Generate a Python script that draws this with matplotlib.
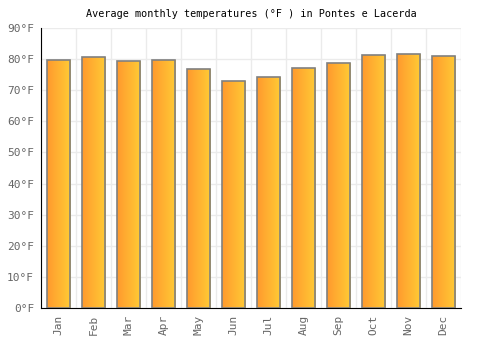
import numpy as np
import matplotlib
matplotlib.use('Agg')
import matplotlib.pyplot as plt
from matplotlib.colors import LinearSegmentedColormap

# data
months = ['Jan', 'Feb', 'Mar', 'Apr', 'May', 'Jun', 'Jul', 'Aug', 'Sep', 'Oct', 'Nov', 'Dec']
temps_f = [79.6, 80.6, 79.3, 79.6, 76.7, 72.9, 74.2, 77.2, 78.9, 81.2, 81.5, 80.9]
yticks = [0, 10, 20, 30, 40, 50, 60, 70, 80, 90]

plt.rcParams['font.family'] = ['DejaVu Sans Mono', 'DejaVu Sans']

fig = plt.figure(figsize=(5, 3.5), dpi=100)
ax = fig.add_axes([0.082, 0.12, 0.84, 0.80])

x = np.arange(len(months))
bars = ax.bar(x, temps_f, width=0.67, color='none', edgecolor='#808080', linewidth=1.2, zorder=3)

# horizontal orange gradient inside each bar
cmap = LinearSegmentedColormap.from_list('warm', ['#FF9A2E', '#FFCB35'])
grad = np.linspace(0, 1, 64).reshape(1, -1)
for b in bars:
    im = ax.imshow(grad, cmap=cmap, aspect='auto', zorder=2,
                   extent=[b.get_x(), b.get_x() + b.get_width(), 0, b.get_height()])
    im.set_clip_path(b)

ax.set_xlim(-0.5, len(months) - 0.5)
ax.set_ylim(0, 90)
ax.set_yticks(yticks)
ax.set_yticklabels([f'{t}°F' for t in yticks])
ax.set_xticks(x)
ax.set_xticklabels(months, rotation=90)
ax.set_xticks(np.arange(len(months) + 1) - 0.5, minor=True)

ax.grid(True, axis='y', color='#EBEBEB', linewidth=1, zorder=0)
ax.grid(True, axis='x', which='minor', color='#EBEBEB', linewidth=1, zorder=0)
ax.set_axisbelow(True)
ax.tick_params(axis='both', which='both', length=0, labelsize=8, colors='#666666', pad=5)

for s in ['top', 'right']:
    ax.spines[s].set_visible(False)
ax.spines['left'].set_color('black')
ax.spines['bottom'].set_color('black')

ax.set_title('Average monthly temperatures (°F ) in Pontes e Lacerda', fontsize=7.3, pad=8)

fig.savefig('out.png', dpi=100)
